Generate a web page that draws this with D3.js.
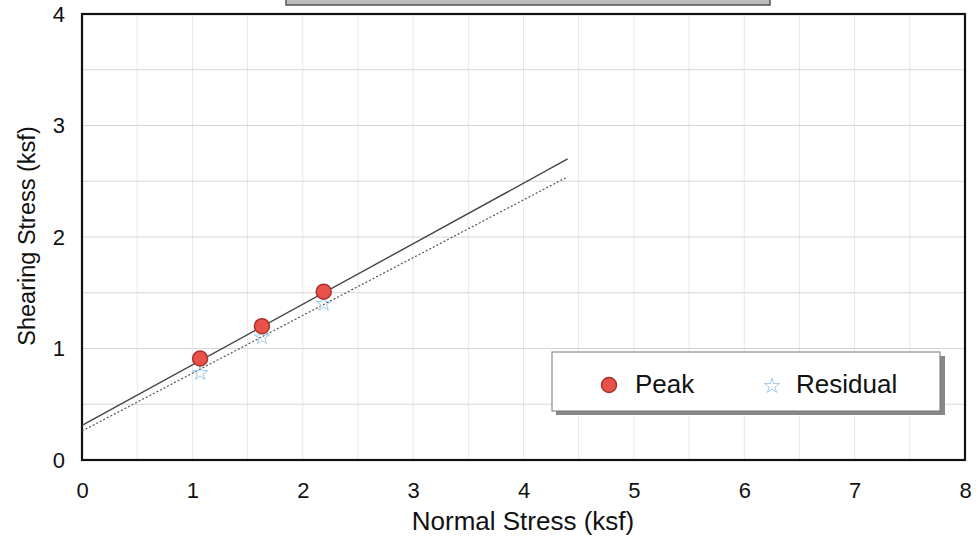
<!DOCTYPE html>
<html><head><meta charset="utf-8">
<script src="https://cdn.jsdelivr.net/npm/d3@7"></script>
<style>body{margin:0;background:#fff}svg{display:block}</style>
</head><body>
<svg id="c" width="978" height="541"></svg>
<script>
const xTicks = [0,1,2,3,4,5,6,7,8];
const yTicks = [0,1,2,3,4];
const gridStep = [0,0.5,1,1.5,2,2.5,3,3.5,4,4.5,5,5.5,6,6.5,7,7.5,8];
const peakX = [1.07, 1.63, 2.19];
const peakY = [0.91, 1.20, 1.51];
const residualX = [1.07, 1.63, 2.19];
const residualY = [0.78, 1.10, 1.40];
const peakLine = [[0,0.31],[4.4,2.70]];
const residualLine = [[0,0.26],[4.4,2.54]];

const svg = d3.select('#c');
const L=82, R=965, T=14, B=460;
const x = d3.scaleLinear().domain([0,8]).range([L,R]);
const y = d3.scaleLinear().domain([0,4]).range([B,T]);
const font = "'Liberation Sans', Arial, sans-serif";

// top cut-off box
svg.append('rect').attr('x',286).attr('y',-20).attr('width',484).attr('height',25)
  .attr('fill','#bdbdbd').attr('stroke','#555').attr('stroke-width',1.5);

// grid
const g = svg.append('g');
g.selectAll('line.v').data(gridStep.filter(d=>d>0&&d<8)).enter().append('line')
  .attr('x1',d=>x(d)).attr('x2',d=>x(d)).attr('y1',T).attr('y2',B)
  .attr('stroke','#e8e8e8').attr('stroke-width',1);
g.selectAll('line.h').data(gridStep.filter(d=>d>0&&d<4)).enter().append('line')
  .attr('y1',d=>y(d)).attr('y2',d=>y(d)).attr('x1',L).attr('x2',R)
  .attr('stroke','#d6d6d6').attr('stroke-width',1);

// plot frame
svg.append('rect').attr('x',L).attr('y',T).attr('width',R-L).attr('height',B-T)
  .attr('fill','none').attr('stroke','#111').attr('stroke-width',2.2);

// axes labels via d3 axes
const xa = svg.append('g').attr('transform',`translate(0,${B})`)
  .call(d3.axisBottom(x).tickValues(xTicks).tickSize(0).tickPadding(22).tickFormat(d3.format('d')));
xa.select('.domain').remove();
xa.selectAll('text').attr('font-family',font).attr('font-size',22).attr('fill','#111');
const ya = svg.append('g').attr('transform',`translate(${L},0)`)
  .call(d3.axisLeft(y).tickValues(yTicks).tickSize(0).tickPadding(17).tickFormat(d3.format('d')));
ya.select('.domain').remove();
ya.selectAll('text').attr('font-family',font).attr('font-size',22).attr('fill','#111');

// axis titles
svg.append('text').attr('x',523).attr('y',530).attr('text-anchor','middle')
  .attr('font-family',font).attr('font-size',26).attr('fill','#111').text('Normal Stress (ksf)');
svg.append('text').attr('transform','translate(35,236) rotate(-90)').attr('text-anchor','middle')
  .attr('font-family',font).attr('font-size',23.5).attr('fill','#111').text('Shearing Stress (ksf)');

// fit lines
const line = d3.line().x(d=>x(d[0])).y(d=>y(d[1]));
svg.append('path').attr('d',line(peakLine)).attr('fill','none').attr('stroke','#444').attr('stroke-width',1.4);
svg.append('path').attr('d',line(residualLine)).attr('fill','none').attr('stroke','#555')
  .attr('stroke-width',1.2).attr('stroke-dasharray','2,2');

const star = d3.symbol().type(d3.symbolStar).size(70);
// residual points
svg.selectAll('path.res').data(residualX.map((v,i)=>[v,residualY[i]])).enter().append('path')
  .attr('d',star).attr('transform',d=>`translate(${x(d[0])},${y(d[1])})`)
  .attr('fill','none').attr('stroke','#9ec9ea').attr('stroke-width',1);
// peak points
svg.selectAll('circle.pk').data(peakX.map((v,i)=>[v,peakY[i]])).enter().append('circle')
  .attr('cx',d=>x(d[0])).attr('cy',d=>y(d[1])).attr('r',7.5)
  .attr('fill','#e8524a').attr('stroke','#a8332c').attr('stroke-width',1.5);

// legend
const lg = svg.append('g');
lg.append('rect').attr('x',556).attr('y',356).attr('width',389).attr('height',59).attr('fill','#888');
lg.append('rect').attr('x',552).attr('y',352).attr('width',388).attr('height',59)
  .attr('fill','#fff').attr('stroke','#777').attr('stroke-width',1);
lg.append('circle').attr('cx',609).attr('cy',385).attr('r',7.5)
  .attr('fill','#e8524a').attr('stroke','#a8332c').attr('stroke-width',1.5);
lg.append('text').attr('x',635).attr('y',393).attr('font-family',font).attr('font-size',26).attr('fill','#111').text('Peak');
lg.append('path').attr('d',star).attr('transform','translate(772,386)')
  .attr('fill','none').attr('stroke','#9ec9ea').attr('stroke-width',1);
lg.append('text').attr('x',796).attr('y',393).attr('font-family',font).attr('font-size',26).attr('fill','#111').text('Residual');
</script>
</body></html>
